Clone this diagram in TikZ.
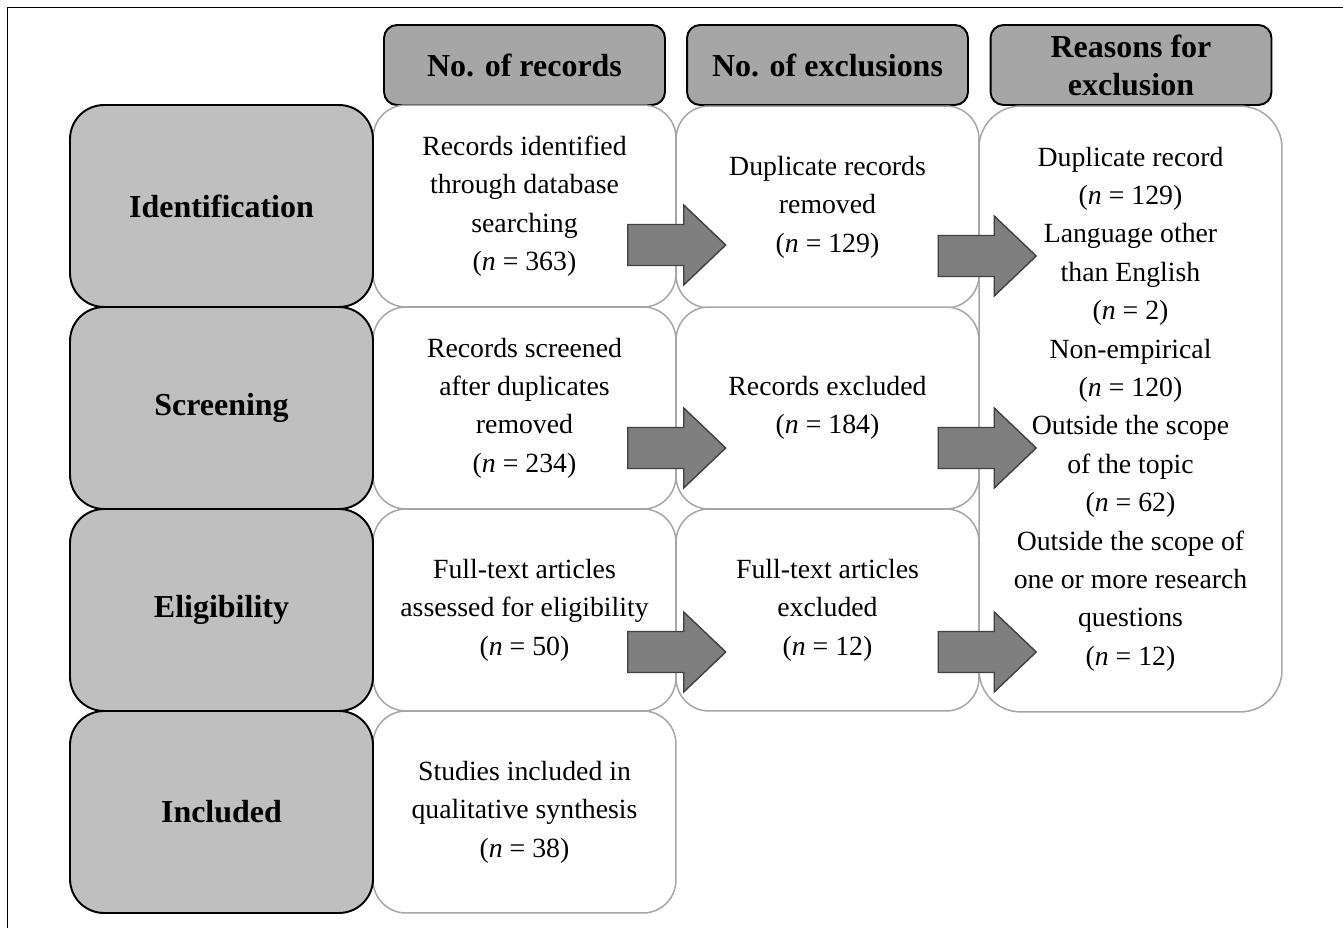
\documentclass[tikz,border=0pt]{standalone}
\usepackage{fontspec}
\setmainfont{Liberation Serif}
\usetikzlibrary{calc}
\definecolor{stagegray}{HTML}{BFBFBF}
\definecolor{headgray}{HTML}{A6A6A6}
\definecolor{boxline}{HTML}{A6A6A6}
\definecolor{arrowfill}{HTML}{7F7F7F}
\definecolor{arrowline}{HTML}{404040}
\newcommand{\nval}[1]{(\textit{n} = #1)}
\tikzset{
  txt/.style={font=\fontsize{15.8pt}{21.85pt}\selectfont, align=center},
  headbox/.style={draw=black, line width=1.1pt, fill=headgray, rounded corners=0.26cm,
    minimum width=5.62cm, minimum height=1.6cm, inner sep=0pt, align=center,
    font=\fontsize{18.2pt}{21.6pt}\selectfont\bfseries},
  stagebox/.style={draw=black, line width=1.1pt, fill=stagegray, rounded corners=0.68cm,
    minimum width=6.06cm, minimum height=4.04cm, inner sep=0pt,
    font=\fontsize{18.2pt}{21.6pt}\selectfont\bfseries},
  whitebox/.style={draw=boxline, line width=0.85pt, fill=white, rounded corners=0.66cm,
    minimum width=6.06cm, minimum height=4.04cm, inner sep=0pt, txt},
  bigbox/.style={whitebox, rounded corners=0.84cm, minimum height=12.12cm},
  blockarrow/.style={draw=arrowline, line width=0.8pt, fill=arrowfill},
  blockarr/.pic={\draw[blockarrow] (-49,-20.5) -- (7,-20.5) -- (7,-40) -- (49,0)
    -- (7,40) -- (7,20.5) -- (-49,20.5) -- cycle;}
}
\begin{document}
\begin{tikzpicture}[x=0.02cm,y=-0.02cm]
\useasboundingbox (0,0) rectangle (1343,928);
% frame
\draw[line width=0.9pt] (7.5,928) -- (7.5,7.5) -- (1343,7.5);

% headers
\node[headbox] (h1) at (524.5,65) {No. of records};
\node[headbox] (h2) at (827.5,65) {No. of exclusions};
\node[headbox] (h3) at (1131,65) {Reasons for\\exclusion};

% white boxes
\node[whitebox] (r1c1) at (524.5,206) {Records identified\\through database\\searching\\\nval{363}};
\node[whitebox] (r2c1) at (524.5,408) {Records screened\\after duplicates\\removed\\\nval{234}};
\node[whitebox] (r3c1) at (524.5,610) {Full-text articles\\assessed for eligibility\\\nval{50}};
\node[whitebox] (r4c1) at (524.5,812) {Studies included in\\qualitative synthesis\\\nval{38}};
\node[whitebox] (r1c2) at (827.5,207) {Duplicate records\\removed\\\nval{129}};
\node[whitebox] (r2c2) at (827.5,408) {Records excluded\\\nval{184}};
\node[whitebox] (r3c2) at (827.5,610) {Full-text articles\\excluded\\\nval{12}};
\node[bigbox] (c3) at (1130.5,409) {Duplicate record\\\nval{129}\\Language other\\than English\\\nval{2}\\Non-empirical\\\nval{120}\\Outside the scope\\of the topic\\\nval{62}\\Outside the scope of\\one or more research\\questions\\\nval{12}};

% stage boxes
\node[stagebox] (s1) at (221.5,206) {Identification};
\node[stagebox] (s2) at (221.5,408) {Screening};
\node[stagebox] (s3) at (221.5,610) {Eligibility};
\node[stagebox] (s4) at (221.5,812) {Included};

% block arrows
\path ($(r1c1.east)+(0,39)$) pic {blockarr};
\path ($(r2c1.east)+(0,40)$) pic {blockarr};
\path ($(r3c1.east)+(0,42)$) pic {blockarr};
\path ($(r1c2.east)+(7.5,49)$) pic {blockarr};
\path ($(r2c2.east)+(7.5,40)$) pic {blockarr};
\path ($(r3c2.east)+(7.5,42)$) pic {blockarr};
\end{tikzpicture}
\end{document}
